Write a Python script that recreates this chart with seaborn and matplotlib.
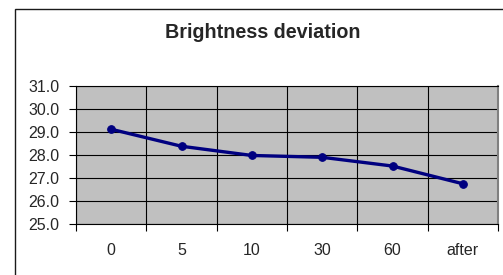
import matplotlib
matplotlib.use("Agg")
import matplotlib.pyplot as plt
import matplotlib.patches as patches
import seaborn as sns
import pandas as pd

# -----------------------------
# Data
# -----------------------------

categories = ["0", "5", "10", "30", "60", "after"]
brightness = [29.12, 28.38, 27.98, 27.90, 27.52, 26.75]
y_ticks = [25.0, 26.0, 27.0, 28.0, 29.0, 30.0, 31.0]
title = "Brightness deviation"

data = pd.DataFrame({"time": categories, "brightness": brightness})

# -----------------------------
# Style
# -----------------------------

sns.set_style("ticks")
plt.rcParams["font.family"] = ["Liberation Sans", "DejaVu Sans"]

W, H = 503, 275
fig = plt.figure(figsize=(W / 100, H / 100), dpi=100)
fig.patch.set_facecolor("white")

# outer chart border (cut off on right and bottom)
fig.patches.append(patches.Rectangle(
    (14.5 / W, -0.2), 1.2, 1.2 - 8.5 / H,
    transform=fig.transFigure, fill=False,
    edgecolor="#1a1a1a", linewidth=1.0
))

ax = fig.add_axes([76 / W, 1 - 224 / H, (498 - 76) / W, (224 - 86) / H])
ax.set_facecolor("#C0C0C0")

# -----------------------------
# Line plot
# -----------------------------

sns.lineplot(
    data=data, x="time", y="brightness", ax=ax,
    color="#000080", linewidth=2.4, marker="o",
    markersize=5.5, markeredgecolor="#000080", sort=False
)

# -----------------------------
# Axes
# -----------------------------

n = len(categories)
ax.set_xlim(-0.5, n - 0.5)
ax.set_ylim(y_ticks[0], y_ticks[-1])

ax.set_xticks([i - 0.5 for i in range(n + 1)])
ax.set_xticklabels([])
ax.set_xticks(range(n), minor=True)
ax.set_xticklabels(categories, minor=True)
ax.tick_params(axis="x", which="major", length=5, width=0.8, color="black")
ax.tick_params(axis="x", which="minor", length=0, pad=14, labelsize=11.5)

ax.set_yticks(y_ticks)
ax.set_yticklabels([f"{v:.1f}" for v in y_ticks])
ax.tick_params(axis="y", length=5, width=0.8, color="black", pad=7, labelsize=11.5)

ax.grid(True, which="major", color="black", linewidth=0.8)
ax.set_axisbelow(True)

for side in ["left", "bottom", "top"]:
    ax.spines[side].set_color("black")
    ax.spines[side].set_linewidth(0.8)
ax.spines["right"].set_visible(True)
ax.spines["right"].set_color("#808080")
ax.spines["right"].set_linewidth(1.5)

ax.set_xlabel("")
ax.set_ylabel("")

fig.text(263 / W, 1 - 33 / H, title, ha="center", va="center",
         fontsize=14.2, fontweight="bold")

plt.savefig("out.png", dpi=100)
plt.close()
